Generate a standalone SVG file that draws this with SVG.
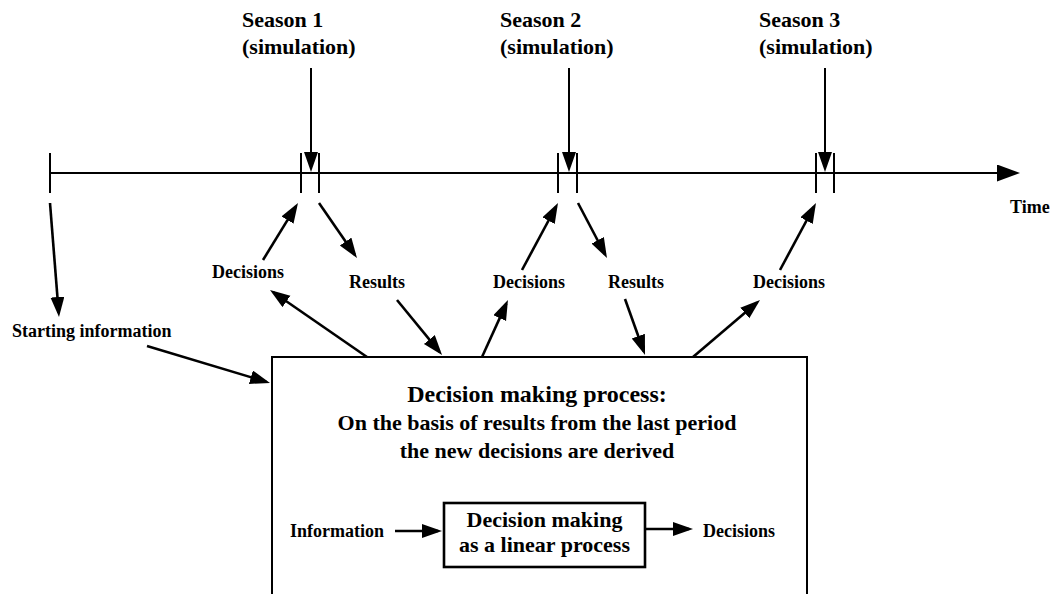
<svg xmlns="http://www.w3.org/2000/svg" width="1056" height="594" viewBox="0 0 1056 594">
  <style>
    .lbl { font-family: "Liberation Serif", "Times New Roman", serif; font-weight: bold; fill: #000; }
    .s18 { font-size: 18px; }
    .s22 { font-size: 22px; }
    .s24 { font-size: 24px; }
    .mid { text-anchor: middle; }
    .axis { stroke: #000; stroke-width: 2; fill: none; }
    .arr { stroke: #000; stroke-width: 2.6; fill: none; marker-end: url(#head); }
    .arrv { stroke: #000; stroke-width: 2; fill: none; marker-end: url(#head); }
    .box { stroke: #000; stroke-width: 2; fill: #fff; }
  </style>
  <defs>
    <marker id="head" markerUnits="userSpaceOnUse" markerWidth="22" markerHeight="16" refX="16" refY="7" orient="auto">
      <path d="M0,0 L20,7 L0,14 z" fill="#000"/>
    </marker>
    <marker id="bighead" markerUnits="userSpaceOnUse" markerWidth="26" markerHeight="20" refX="19" refY="8.5" orient="auto">
      <path d="M0,0 L23,8.5 L0,17 z" fill="#000"/>
    </marker>
  </defs>
  <rect width="1056" height="594" fill="#fff"/>

  <!-- process box (open at the bottom edge) -->
  <g id="process">
    <rect class="box" x="272" y="357" width="535" height="260"/>
    <text class="lbl s24 mid" x="537" y="402">Decision making process:</text>
    <text class="lbl s22 mid" x="537" y="430">On the basis of results from the last period</text>
    <text class="lbl s22 mid" x="537" y="458">the new decisions are derived</text>
  </g>

  <g id="linear">
    <rect class="box" x="444" y="503" width="201" height="64" style="stroke-width:2.6"/>
    <text class="lbl s22 mid" x="544.5" y="527">Decision making</text>
    <text class="lbl s22 mid" x="544.5" y="552">as a linear process</text>
  </g>

  <g id="timeline">
    <line class="axis" x1="49" y1="173" x2="1016" y2="173" style="marker-end:url(#bighead)"/>
    <line class="axis" x1="50" y1="153" x2="50" y2="193"/>
    <line class="axis" x1="301" y1="153" x2="301" y2="193"/>
    <line class="axis" x1="319" y1="153" x2="319" y2="193"/>
    <line class="axis" x1="558" y1="153" x2="558" y2="193"/>
    <line class="axis" x1="577" y1="153" x2="577" y2="193"/>
    <line class="axis" x1="816" y1="153" x2="816" y2="193"/>
    <line class="axis" x1="834" y1="153" x2="834" y2="193"/>
    <text class="lbl s18" x="1010" y="213">Time</text>
  </g>

  <g id="season1">
    <text class="lbl s22" x="242" y="27">Season 1</text>
    <text class="lbl s22" x="242" y="54">(simulation)</text>
  </g>
  <g id="season2">
    <text class="lbl s22" x="500" y="27">Season 2</text>
    <text class="lbl s22" x="500" y="54">(simulation)</text>
  </g>
  <g id="season3">
    <text class="lbl s22" x="759" y="27">Season 3</text>
    <text class="lbl s22" x="759" y="54">(simulation)</text>
  </g>

  <g id="start"><text class="lbl s18" x="12" y="337">Starting information</text></g>
  <g id="decisions1"><text class="lbl s18" x="212" y="278">Decisions</text></g>
  <g id="results1"><text class="lbl s18" x="349" y="288">Results</text></g>
  <g id="decisions2"><text class="lbl s18" x="493" y="288">Decisions</text></g>
  <g id="results2"><text class="lbl s18" x="608" y="288">Results</text></g>
  <g id="decisions3"><text class="lbl s18" x="753" y="288">Decisions</text></g>
  <g id="information"><text class="lbl s18" x="290" y="537">Information</text></g>
  <g id="decisionsOut"><text class="lbl s18" x="703" y="537">Decisions</text></g>

  <g id="connectors">
    <!-- season simulation runs -->
    <line class="arrv" x1="311" y1="68" x2="311" y2="168"/>
    <line class="arrv" x1="569" y1="68" x2="569" y2="168"/>
    <line class="arrv" x1="825" y1="68" x2="825" y2="168"/>
    <!-- start of the timeline to starting information -->
    <line class="arr" x1="50" y1="203" x2="58.7" y2="313"/>
    <!-- decisions into seasons, results out of seasons -->
    <line class="arr" x1="263" y1="260" x2="295.9" y2="206.4"/>
    <line class="arr" x1="319" y1="203" x2="354.7" y2="254.7"/>
    <line class="arr" x1="522" y1="270" x2="556.1" y2="206.5"/>
    <line class="arr" x1="578" y1="203" x2="605.1" y2="254.5"/>
    <line class="arr" x1="780" y1="270" x2="814.1" y2="206.5"/>
    <!-- between the process box and the labels -->
    <line class="arr" x1="367" y1="357" x2="273.3" y2="292.3"/>
    <line class="arr" x1="397" y1="300" x2="439.5" y2="351.9"/>
    <line class="arr" x1="482" y1="357" x2="506.3" y2="303.6"/>
    <line class="arr" x1="625" y1="299" x2="643.7" y2="351.2"/>
    <line class="arr" x1="693" y1="357" x2="757" y2="302.6"/>
    <line class="arr" x1="147" y1="346" x2="266.2" y2="381.8"/>
    <!-- linear process inside the box -->
    <line class="arr" x1="395" y1="531" x2="438" y2="531"/>
    <line class="arr" x1="645" y1="529" x2="689" y2="529"/>
  </g>
</svg>
